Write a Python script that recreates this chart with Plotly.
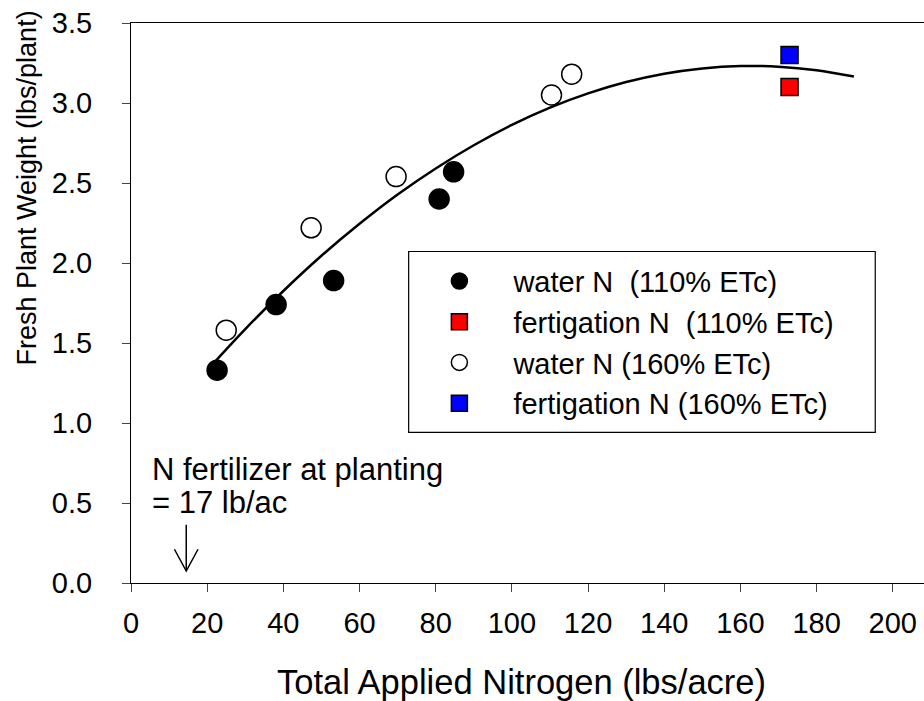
import plotly.graph_objects as go

# ---- data ----
water110_x = [22.6, 38.1, 53.2, 80.9, 84.7]
water110_y = [1.33, 1.74, 1.89, 2.40, 2.57]

water160_x = [25.0, 47.3, 69.6, 110.4, 115.7]
water160_y = [1.58, 2.22, 2.54, 3.05, 3.18]

fert110_x = [172.9]
fert110_y = [3.10]

fert160_x = [172.9]
fert160_y = [3.30]

curve_x = [21.3, 30, 40, 50, 60, 70, 80, 90, 100, 110, 120, 130, 140, 150, 160, 170, 180, 189.8]
curve_y = [1.364, 1.587, 1.825, 2.045, 2.245, 2.428, 2.591, 2.736, 2.863, 2.971,
           3.060, 3.131, 3.183, 3.216, 3.231, 3.227, 3.205, 3.165]

x_ticks = [0, 20, 40, 60, 80, 100, 120, 140, 160, 180, 200]
y_ticks = [0.0, 0.5, 1.0, 1.5, 2.0, 2.5, 3.0, 3.5]

FONT = "Liberation Sans, Arial, sans-serif"

fig = go.Figure()

fig.add_trace(go.Scatter(x=curve_x, y=curve_y, mode="lines", line=dict(color="black", width=2.5, shape="spline"),
                         showlegend=False, hoverinfo="skip"))

fig.add_trace(go.Scatter(x=water110_x, y=water110_y, mode="markers", name="water N\u00a0 (110% ETc)",
                         marker=dict(symbol="circle", size=20, color="black", line=dict(color="black", width=1.5))))
fig.add_trace(go.Scatter(x=fert110_x, y=fert110_y, mode="markers", name="fertigation N\u00a0 (110% ETc)",
                         marker=dict(symbol="square", size=17, color="#ff0000", line=dict(color="black", width=1.5))))
fig.add_trace(go.Scatter(x=water160_x, y=water160_y, mode="markers", name="water N (160% ETc)",
                         marker=dict(symbol="circle", size=20, color="white", line=dict(color="black", width=1.5))))
fig.add_trace(go.Scatter(x=fert160_x, y=fert160_y, mode="markers", name="fertigation N (160% ETc)",
                         marker=dict(symbol="square", size=17, color="#0000ff", line=dict(color="black", width=1.5))))

# legend box
fig.add_shape(type="rect", xref="x", yref="y", x0=72.9, x1=195.4, y0=0.941, y1=2.072,
              line=dict(color="black", width=1.2), fillcolor="rgba(0,0,0,0)", layer="below")

# arrow for N at planting
fig.add_shape(type="line", xref="x", yref="y", x0=14.5, x1=14.5, y0=0.364, y1=0.075,
              line=dict(color="black", width=1.5))
fig.add_shape(type="path", xref="x", yref="y",
              path="M 11.4,0.211 L 14.5,0.075 L 17.6,0.211",
              line=dict(color="black", width=1.5))

fig.add_annotation(x=5.1, y=0.711, xref="x", yref="y", text="N fertilizer at planting",
                   showarrow=False, xanchor="left", yanchor="middle",
                   font=dict(family=FONT, size=31, color="black"))
fig.add_annotation(x=5.1, y=0.505, xref="x", yref="y", text="= 17 lb/ac",
                   showarrow=False, xanchor="left", yanchor="middle",
                   font=dict(family=FONT, size=31, color="black"))

# axis titles
fig.add_annotation(x=0.4929, y=-0.176, xref="paper", yref="paper", text="Total Applied Nitrogen (lbs/acre)",
                   showarrow=False, xanchor="center", yanchor="middle",
                   font=dict(family=FONT, size=34.5, color="black"))
fig.add_annotation(x=-0.1313, y=0.706, xref="paper", yref="paper", text="Fresh Plant Weight (lbs/plant)",
                   showarrow=False, xanchor="center", yanchor="middle", textangle=-90,
                   font=dict(family=FONT, size=27, color="black"))

fig.update_xaxes(range=[0, 208.2], tickvals=x_ticks, ticks="outside", ticklen=8, tickwidth=1.2,
                 showline=True, linecolor="black", linewidth=1.2, mirror=True, showgrid=False, zeroline=False,
                 tickfont=dict(family=FONT, size=29, color="black"), ticklabelstandoff=6)
fig.update_yaxes(range=[0, 3.5], tickvals=y_ticks, tickformat=".1f", ticks="outside", ticklen=8, tickwidth=1.2,
                 showline=True, linecolor="black", linewidth=1.2, mirror=True, showgrid=False, zeroline=False,
                 tickfont=dict(family=FONT, size=29, color="black"), ticklabelstandoff=24)

fig.update_layout(
    width=924, height=701,
    margin=dict(l=130.7, r=0, t=23.3, b=117.7),
    paper_bgcolor="white", plot_bgcolor="white",
    font=dict(family=FONT, color="black"),
    legend=dict(x=0.346, y=0.5845, xanchor="left", yanchor="top", bgcolor="rgba(0,0,0,0)",
                borderwidth=0, font=dict(family=FONT, size=29, color="black"),
                itemwidth=98, tracegroupgap=0),
)

fig.write_html("out.html")
